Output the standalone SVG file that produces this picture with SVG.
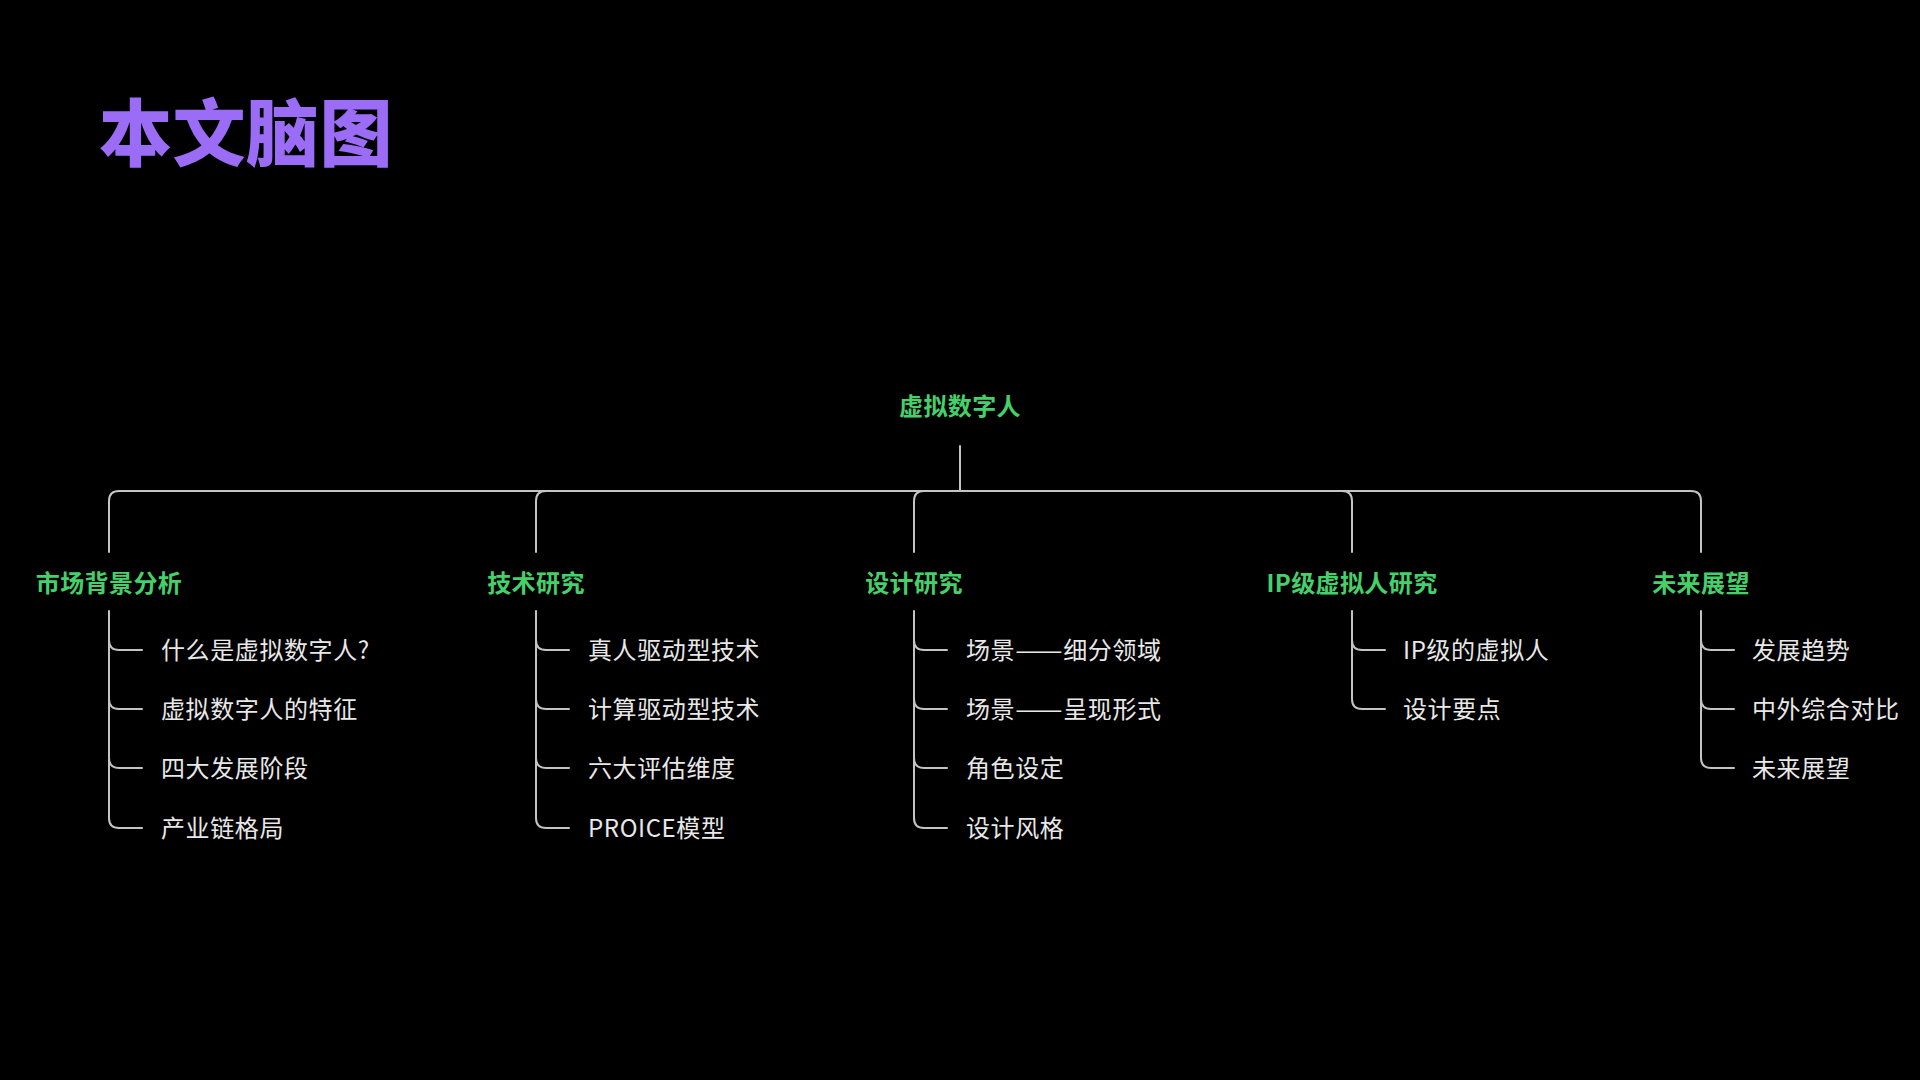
<svg xmlns="http://www.w3.org/2000/svg" width="1920" height="1080" viewBox="0 0 1920 1080">
<style>
.title{font-family:"Noto Sans CJK SC","Noto Sans",sans-serif;font-size:73px;font-weight:900;fill:#9b6cf6;letter-spacing:0.5px}
.main{font-family:"Noto Sans CJK SC","Noto Sans",sans-serif;font-size:24px;font-weight:700;fill:#45d06a;text-anchor:middle;letter-spacing:0.4px}
.leaf{font-family:"Noto Sans CJK SC","Noto Sans",sans-serif;font-size:24px;font-weight:400;fill:#e8e8e8;letter-spacing:0.6px}
.ln{fill:none;stroke:#c4c4c4;stroke-width:2;stroke-linecap:round}
</style>
<rect width="1920" height="1080" fill="#000"/>
<text class="title" x="99" y="160">本文脑图</text>
<g id="connectors">
<path class="ln" d="M960,446 V491"/>
<path class="ln" d="M109,552 V501 Q109,491 119,491 H1691 Q1701,491 1701,501 V552"/>
<path class="ln" d="M536,552 V501 Q536,491 546,491"/>
<path class="ln" d="M914,552 V501 Q914,491 924,491"/>
<path class="ln" d="M1352,552 V501 Q1352,491 1342,491"/>
<path class="ln" d="M109,611 V818 Q109,828 119,828 H142"/>
<path class="ln" d="M109,640 Q109,650 119,650 H142 M109,699 Q109,709 119,709 H142 M109,758 Q109,768 119,768 H142"/>
<path class="ln" d="M536,611 V818 Q536,828 546,828 H569"/>
<path class="ln" d="M536,640 Q536,650 546,650 H569 M536,699 Q536,709 546,709 H569 M536,758 Q536,768 546,768 H569"/>
<path class="ln" d="M914,611 V818 Q914,828 924,828 H947"/>
<path class="ln" d="M914,640 Q914,650 924,650 H947 M914,699 Q914,709 924,709 H947 M914,758 Q914,768 924,768 H947"/>
<path class="ln" d="M1352,611 V699 Q1352,709 1362,709 H1385"/>
<path class="ln" d="M1352,640 Q1352,650 1362,650 H1385"/>
<path class="ln" d="M1701,611 V758 Q1701,768 1711,768 H1734"/>
<path class="ln" d="M1701,640 Q1701,650 1711,650 H1734 M1701,699 Q1701,709 1711,709 H1734"/>
</g>
<g id="root"><text class="main" x="960" y="415">虚拟数字人</text></g>
<g id="b1">
<text class="main" x="109" y="592">市场背景分析</text>
<text class="leaf" x="161" y="659">什么是虚拟数字人?</text>
<text class="leaf" x="161" y="718">虚拟数字人的特征</text>
<text class="leaf" x="161" y="777">四大发展阶段</text>
<text class="leaf" x="161" y="837">产业链格局</text>
</g>
<g id="b2">
<text class="main" x="536" y="592">技术研究</text>
<text class="leaf" x="588" y="659">真人驱动型技术</text>
<text class="leaf" x="588" y="718">计算驱动型技术</text>
<text class="leaf" x="588" y="777">六大评估维度</text>
<text class="leaf" x="588" y="837">PROICE模型</text>
</g>
<g id="b3">
<text class="main" x="914" y="592">设计研究</text>
<text class="leaf" x="966" y="659">场景<tspan textLength="48" lengthAdjust="spacingAndGlyphs">——</tspan>细分领域</text>
<text class="leaf" x="966" y="718">场景<tspan textLength="48" lengthAdjust="spacingAndGlyphs">——</tspan>呈现形式</text>
<text class="leaf" x="966" y="777">角色设定</text>
<text class="leaf" x="966" y="837">设计风格</text>
</g>
<g id="b4">
<text class="main" x="1352" y="592">IP级虚拟人研究</text>
<text class="leaf" x="1403" y="659">IP级的虚拟人</text>
<text class="leaf" x="1403" y="718">设计要点</text>
</g>
<g id="b5">
<text class="main" x="1701" y="592">未来展望</text>
<text class="leaf" x="1752" y="659">发展趋势</text>
<text class="leaf" x="1752" y="718">中外综合对比</text>
<text class="leaf" x="1752" y="777">未来展望</text>
</g>
</svg>
